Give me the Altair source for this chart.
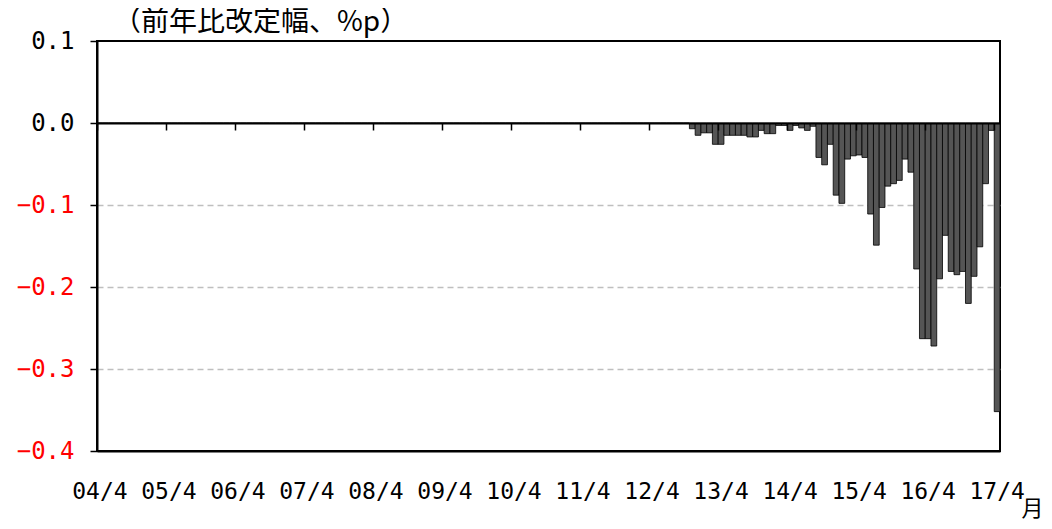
import altair as alt
import pandas as pd

# month categories 04/4 ... 17/4
months = []
for y in range(4, 17):
    for m in list(range(4, 13)) + list(range(1, 4)):
        yy = y if m >= 4 else y + 1
        months.append(f"{yy:02d}/{m}")
months.append("17/4")

year_labels = ["04/4", "05/4", "06/4", "07/4", "08/4", "09/4", "10/4",
               "11/4", "12/4", "13/4", "14/4", "15/4", "16/4", "17/4"]

# values, one row per fiscal year (Apr..Mar)
fy04 = [0, 0, 0, 0, 0, 0, 0, 0, 0, 0, 0, 0]
fy05 = [0, 0, 0, 0, 0, 0, 0, 0, 0, 0, 0, 0]
fy06 = [0, 0, 0, 0, 0, 0, 0, 0, 0, 0, 0, 0]
fy07 = [0, 0, 0, 0, 0, 0, 0, 0, 0, 0, 0, 0]
fy08 = [0, 0, 0, 0, 0, 0, 0, 0, 0, 0, 0, 0]
fy09 = [0, 0, 0, 0, 0, 0, 0, 0, 0, 0, 0, 0]
fy10 = [0, 0, 0, 0, 0, 0, 0, 0, 0, 0, 0, 0]
fy11 = [0, 0, 0, 0, 0, 0, 0, 0, 0, 0, 0, 0]
fy12 = [0, 0, 0, 0, 0, 0, 0, -0.007, -0.015, -0.012, -0.012, -0.026]
fy13 = [-0.026, -0.015, -0.015, -0.015, -0.015, -0.017, -0.017, -0.009, -0.013, -0.013, -0.003, -0.003]
fy14 = [-0.009, -0.003, -0.006, -0.009, -0.004, -0.042, -0.051, -0.026, -0.088, -0.098, -0.044, -0.040]
fy15 = [-0.039, -0.042, -0.111, -0.149, -0.103, -0.077, -0.074, -0.070, -0.044, -0.060, -0.178, -0.263]
fy16 = [-0.263, -0.272, -0.190, -0.137, -0.181, -0.185, -0.181, -0.220, -0.187, -0.151, -0.074, -0.009]
fy17 = [-0.352]

values = fy04 + fy05 + fy06 + fy07 + fy08 + fy09 + fy10 + fy11 + fy12 + fy13 + fy14 + fy15 + fy16 + fy17
df = pd.DataFrame({"month": months, "value": values})

W, H = 903, 410
FONT = "Noto Sans CJK JP"
MONO = "DejaVu Sans Mono, Liberation Mono, monospace"

xscale = alt.Scale(paddingInner=0, paddingOuter=0)
yscale = alt.Scale(domain=[-0.4, 0.1], nice=False)

bars = alt.Chart(df).mark_bar(color="#555555", stroke="#000000", strokeWidth=0.8).encode(
    x=alt.X("month:N", sort=months, scale=xscale,
            axis=alt.Axis(values=year_labels, ticks=False, domain=True, domainColor="black",
                          domainWidth=2, labelAngle=0, labelFontSize=23, labelFont=MONO,
                          labelPadding=29, labelOverlap=False, labelFlush=False,
                          labelColor="black", grid=False,
                          title="月", titleFont=FONT, titleFontSize=22, titleFontWeight="normal",
                          titleX=935, titleY=57, titleAlign="center", titleBaseline="middle",
                          titleAngle=0)),
    y=alt.Y("value:Q", scale=yscale,
            axis=alt.Axis(values=[0.1, 0.0, -0.1, -0.2, -0.3, -0.4], format=".1f",
                          labelFontSize=24, labelFont=MONO, labelPadding=16,
                          labelColor={"condition": {"test": "datum.value < 0", "value": "red"}, "value": "black"},
                          domainColor="black", domainWidth=2, tickColor="black", tickSize=7,
                          tickWidth=1.5, grid=True, gridColor="#bfbfbf", gridDash=[6, 4],
                          gridOpacity={"condition": {"test": "datum.value >= 0 || datum.value <= -0.39", "value": 0}, "value": 1},
                          gridWidth=1.5, title=None)),
)

zero_axis = alt.Chart(df).mark_bar(opacity=0).encode(
    x=alt.X("month:N", sort=months, scale=xscale,
            axis=alt.Axis(orient="bottom", offset=-(H * 0.8), values=year_labels, labels=False,
                          bandPosition=0, ticks=True, tickSize=7, tickWidth=1.5, tickColor="black",
                          domainColor="black", domainWidth=2, grid=False, title=None, zindex=1)),
    y=alt.Y("value:Q", scale=yscale, axis=None),
)

chart = alt.layer(bars, zero_axis).resolve_axis(x="independent", y="independent").properties(
    width=W, height=H,
    background="white",
    autosize=alt.AutoSizeParams(type="none"),
    padding={"left": 89, "top": 33, "right": 44, "bottom": 70},
    title=alt.TitleParams("（前年比改定幅、%p）", anchor="start", frame="group", dx=16, offset=6, dy=14,
                          fontSize=28, font=FONT, fontWeight="normal", color="black"),
).configure_view(stroke="black", strokeWidth=2)

chart.save("out.html", embed_options={"renderer": "svg", "actions": False})
